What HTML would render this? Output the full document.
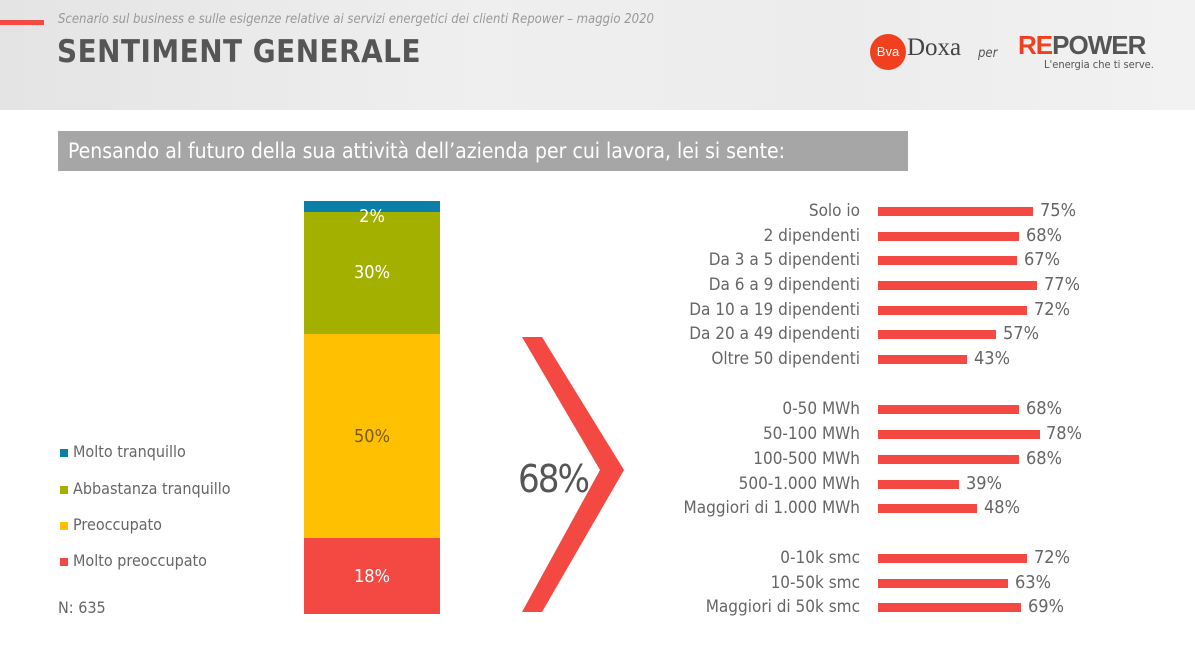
<!DOCTYPE html>
<html><head><meta charset="utf-8"><style>
body{margin:0;width:1195px;height:651px;position:relative;background:#fff;font-family:"DejaVu Sans Condensed","Liberation Sans",sans-serif;overflow:hidden;color:#666}
.a{position:absolute}
.lab{position:absolute;right:335px;font-size:17px;color:#666;white-space:nowrap;line-height:20px}
.bar{position:absolute;left:878px;height:9px;background:#f44842}
.val{position:absolute;font-size:18px;color:#666;line-height:20px}
.leg{position:absolute;left:60px;font-size:16px;color:#666;line-height:18px}
.leg i{display:inline-block;width:8px;height:8px;margin-right:5px}
</style></head><body>
<div class="a" style="left:0;top:0;width:1195px;height:110px;background:linear-gradient(90deg,#e4e4e4,#efefef 40%,#ececec 70%,#f2f2f2)"></div>
<div class="a" style="left:0;top:20px;width:44px;height:5px;background:#f44842"></div>
<div class="a" style="left:58px;top:12px;font-size:13px;font-style:italic;color:#999">Scenario sul business e sulle esigenze relative ai servizi energetici dei clienti Repower – maggio 2020</div>
<div class="a" style="left:57px;top:34px;font-size:31px;font-weight:bold;color:#555;letter-spacing:0.5px">SENTIMENT GENERALE</div>
<div class="a" style="left:870px;top:34px;width:36px;height:36px;border-radius:50%;background:#f0401f;color:#fff;font-size:13px;text-align:center;line-height:36px;font-family:'Liberation Sans',sans-serif">Bva</div>
<div class="a" style="left:907px;top:34px;font-size:25px;color:#444;font-family:'Liberation Serif',serif">Doxa</div>
<div class="a" style="left:978px;top:46px;font-size:13px;font-style:italic;color:#555">per</div>
<div class="a" style="left:1018px;top:30px;font-size:26px;font-weight:bold;color:#555;font-family:'Liberation Sans',sans-serif;letter-spacing:-1px"><span style="color:#f0401f">RE</span>POWER</div>
<div class="a" style="left:1044px;top:58px;font-size:11px;color:#555">L'energia che ti serve.</div>
<div class="a" style="left:58px;top:131px;width:850px;height:40px;background:#a6a6a6"></div>
<div class="a" style="left:68px;top:139px;font-size:21px;color:#fff">Pensando al futuro della sua attività dell’azienda per cui lavora, lei si sente:</div>

<div class="a" style="left:304px;top:201px;width:136px;height:11px;background:#0a7fa8"></div>
<div class="a" style="left:304px;top:212px;width:136px;height:122px;background:#a3b000"></div>
<div class="a" style="left:304px;top:334px;width:136px;height:204px;background:#fec000"></div>
<div class="a" style="left:304px;top:538px;width:136px;height:76px;background:#f44842"></div>
<div class="a" style="left:304px;top:206px;width:136px;text-align:center;color:#fff;font-size:18px">2%</div>
<div class="a" style="left:304px;top:262px;width:136px;text-align:center;color:#fff;font-size:18px">30%</div>
<div class="a" style="left:304px;top:426px;width:136px;text-align:center;color:#7a5a00;font-size:18px">50%</div>
<div class="a" style="left:304px;top:566px;width:136px;text-align:center;color:#fff;font-size:18px">18%</div>

<div class="leg" style="top:443px"><i style="background:#0a7fa8"></i>Molto tranquillo</div>
<div class="leg" style="top:480px"><i style="background:#a3b000"></i>Abbastanza tranquillo</div>
<div class="leg" style="top:516px"><i style="background:#fec000"></i>Preoccupato</div>
<div class="leg" style="top:552px"><i style="background:#f44842"></i>Molto preoccupato</div>
<div class="a" style="left:58px;top:598px;font-size:16px;color:#666">N: 635</div>

<svg class="a" style="left:0;top:0" width="1195" height="651"><polygon points="522,337 542,337 624,470 542,612 522,612 600,470" fill="#f44842"/></svg>
<div class="a" style="left:518px;top:457px;font-size:38px;color:#555;letter-spacing:-2px">68%</div>

<div class="lab" style="top:201px">Solo io</div><div class="bar" style="top:207px;width:155px"></div><div class="val" style="left:1040px;top:201px">75%</div>
<div class="lab" style="top:226px">2 dipendenti</div><div class="bar" style="top:232px;width:141px"></div><div class="val" style="left:1026px;top:226px">68%</div>
<div class="lab" style="top:250px">Da 3 a 5 dipendenti</div><div class="bar" style="top:256px;width:139px"></div><div class="val" style="left:1024px;top:250px">67%</div>
<div class="lab" style="top:275px">Da 6 a 9 dipendenti</div><div class="bar" style="top:281px;width:159px"></div><div class="val" style="left:1044px;top:275px">77%</div>
<div class="lab" style="top:300px">Da 10 a 19 dipendenti</div><div class="bar" style="top:306px;width:149px"></div><div class="val" style="left:1034px;top:300px">72%</div>
<div class="lab" style="top:324px">Da 20 a 49 dipendenti</div><div class="bar" style="top:330px;width:118px"></div><div class="val" style="left:1003px;top:324px">57%</div>
<div class="lab" style="top:349px">Oltre 50 dipendenti</div><div class="bar" style="top:355px;width:89px"></div><div class="val" style="left:974px;top:349px">43%</div>

<div class="lab" style="top:399px">0-50 MWh</div><div class="bar" style="top:405px;width:141px"></div><div class="val" style="left:1026px;top:399px">68%</div>
<div class="lab" style="top:424px">50-100 MWh</div><div class="bar" style="top:430px;width:162px"></div><div class="val" style="left:1046px;top:424px">78%</div>
<div class="lab" style="top:449px">100-500 MWh</div><div class="bar" style="top:455px;width:141px"></div><div class="val" style="left:1026px;top:449px">68%</div>
<div class="lab" style="top:474px">500-1.000 MWh</div><div class="bar" style="top:480px;width:81px"></div><div class="val" style="left:966px;top:474px">39%</div>
<div class="lab" style="top:498px">Maggiori di 1.000 MWh</div><div class="bar" style="top:504px;width:99px"></div><div class="val" style="left:984px;top:498px">48%</div>

<div class="lab" style="top:548px">0-10k smc</div><div class="bar" style="top:554px;width:149px"></div><div class="val" style="left:1034px;top:548px">72%</div>
<div class="lab" style="top:573px">10-50k smc</div><div class="bar" style="top:579px;width:130px"></div><div class="val" style="left:1015px;top:573px">63%</div>
<div class="lab" style="top:597px">Maggiori di 50k smc</div><div class="bar" style="top:603px;width:143px"></div><div class="val" style="left:1028px;top:597px">69%</div>
</body></html>
